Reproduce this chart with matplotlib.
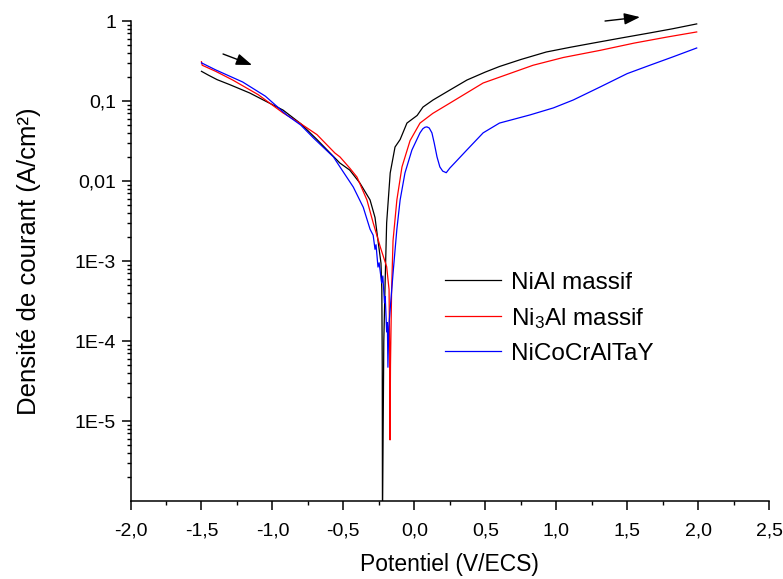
import numpy as np
import matplotlib
matplotlib.use("Agg")
import matplotlib.pyplot as plt
from matplotlib.ticker import FixedLocator, FuncFormatter, MultipleLocator, LogLocator

plt.rcParams['font.family'] = ['Liberation Sans', 'DejaVu Sans']
plt.rcParams['mathtext.fontset'] = 'custom'
plt.rcParams['mathtext.rm'] = 'Liberation Sans'
plt.rcParams['mathtext.it'] = 'Liberation Sans'

# NiAl massif
nial_E = [-1.50, -1.45, -1.39, -1.30, -1.16, -1.05, -0.925, -0.80, -0.686, -0.60,
          -0.525, -0.455, -0.383, -0.312, -0.277, -0.256, -0.235, -0.229, -0.226, -0.2245,
          -0.215, -0.207, -0.195, -0.17, -0.136, -0.10, -0.052, 0.02, 0.061, 0.132,
          0.25, 0.371, 0.50, 0.60, 0.75, 0.93, 1.10, 1.26, 1.45, 1.66, 1.82, 1.99]
nial_i = [0.235, 0.21, 0.185, 0.16, 0.126, 0.10, 0.077, 0.052, 0.033, 0.023,
          0.0168, 0.0137, 0.0094, 0.0058, 0.0035, 0.0018, 9.4e-4, 4.4e-4, 5e-5, 5e-7,
          1e-4, 4.4e-4, 0.003, 0.0126, 0.0266, 0.033, 0.053, 0.066, 0.084, 0.103,
          0.137, 0.183, 0.23, 0.27, 0.33, 0.41, 0.47, 0.53, 0.61, 0.71, 0.80, 0.92]

# Ni3Al massif
ni3al_E = [-1.50, -1.495, -1.40, -1.28, -1.10, -0.925, -0.80, -0.686, -0.56, -0.524,
           -0.455, -0.404, -0.334, -0.29, -0.24, -0.195, -0.178, -0.173, -0.171, -0.168,
           -0.16, -0.15, -0.123, -0.087, -0.03, 0.04, 0.13, 0.25, 0.485, 0.837,
           1.05, 1.31, 1.55, 1.78, 1.99]
ni3al_i = [0.31, 0.28, 0.235, 0.183, 0.12, 0.071, 0.052, 0.038, 0.0224, 0.02,
           0.0145, 0.0112, 0.0058, 0.003, 0.0015, 8.5e-4, 4.4e-4, 5e-5, 5.8e-6, 5e-5,
           4.4e-4, 0.0018, 0.0058, 0.015, 0.032, 0.053, 0.07, 0.094, 0.168, 0.28,
           0.35, 0.43, 0.53, 0.63, 0.73]

# NiCoCrAlTaY
nicocr_E = [-1.50, -1.40, -1.21, -1.05, -0.90, -0.80, -0.71, -0.57, -0.524, -0.43,
            -0.36, -0.312, -0.29, -0.277, -0.27, -0.256, -0.248, -0.23, -0.222, -0.21,
            -0.205, -0.195, -0.19, -0.186, -0.18, -0.15, -0.123, -0.10, -0.066, -0.017,
            0.04, 0.06, 0.075, 0.089, 0.105, 0.124, 0.14, 0.16, 0.18, 0.20,
            0.225, 0.25, 0.30, 0.37, 0.485, 0.60, 0.815, 0.98, 1.12, 1.31,
            1.50, 1.66, 1.82, 1.99]
nicocr_i = [0.30, 0.245, 0.173, 0.115, 0.067, 0.05, 0.0344, 0.02, 0.015, 0.0084,
            0.0047, 0.0025, 0.0021, 0.0014, 0.0016, 8.4e-4, 9.5e-4, 5.3e-4, 6.5e-4, 3e-4,
            3.6e-4, 1.3e-4, 1.7e-4, 4.7e-5, 1.5e-4, 7e-4, 0.0025, 0.0058, 0.0126, 0.0244,
            0.04, 0.045, 0.047, 0.0475, 0.046, 0.04, 0.03, 0.02, 0.015, 0.0133,
            0.0127, 0.0145, 0.018, 0.0244, 0.04, 0.053, 0.067, 0.082, 0.103, 0.15,
            0.22, 0.28, 0.355, 0.46]

series = [(nial_E, nial_i, 'black', 'NiAl massif'),
          (ni3al_E, ni3al_i, 'red', 'Ni$_3$Al massif'),
          (nicocr_E, nicocr_i, 'blue', 'NiCoCrAlTaY')]

# sens de balayage
arrow_left = [(-1.348, 0.387), (-1.144, 0.282)]
arrow_right = [(1.344, 1.0), (1.59, 1.12)]

ytick_vals = [1e-5, 1e-4, 1e-3, 1e-2, 1e-1, 1]
ytick_labels = ['1E-5', '1E-4', '1E-3', '0,01', '0,1', '1']

fig = plt.figure(figsize=(7.83, 5.79), dpi=100)
ax = fig.add_axes([0.1667, 0.1347, 0.8155, 0.829])

for E, i, c, lab in series:
    ax.plot(E, i, color=c, lw=0.9, label=lab)

ax.set_yscale('log')
ax.set_xlim(-2.0, 2.5)
ax.set_ylim(1e-6, 1.0)

ax.xaxis.set_major_locator(MultipleLocator(0.5))
ax.xaxis.set_minor_locator(MultipleLocator(0.25))
ax.xaxis.set_major_formatter(FuncFormatter(lambda v, p: ('%.1f' % v).replace('.', ',')))
ax.yaxis.set_major_locator(FixedLocator(ytick_vals))
ax.yaxis.set_major_formatter(FuncFormatter(
    lambda v, p: dict(zip(ytick_vals, ytick_labels)).get(v, '')))
ax.yaxis.set_minor_locator(LogLocator(base=10, subs=np.arange(2, 10)))
ax.yaxis.set_minor_formatter(FuncFormatter(lambda v, p: ''))

for s in ['top', 'right']:
    ax.spines[s].set_visible(False)
for s in ['left', 'bottom']:
    ax.spines[s].set_linewidth(1.1)

ax.tick_params(which='major', direction='out', length=6.5, width=1.1, labelsize=14)
ax.tick_params(which='minor', direction='out', length=3.2, width=1.0)
ax.tick_params(axis='x', pad=9)
ax.tick_params(axis='y', pad=4)

ax.set_xlabel('Potentiel (V/ECS)', fontsize=16.5, labelpad=10)
ax.set_ylabel('Densité de courant (A/cm²)', fontsize=18.5, labelpad=24)

for a in (arrow_left, arrow_right):
    ax.annotate('', xy=a[1], xytext=a[0], annotation_clip=False,
                arrowprops=dict(arrowstyle='-|>,head_length=0.6,head_width=0.22',
                                color='black', lw=1.0,
                                mutation_scale=16, shrinkA=0, shrinkB=0))

ax.legend(loc='upper left', bbox_to_anchor=(0.4925, 0.478), frameon=False,
          fontsize=17.5, handlelength=2.3, handletextpad=0.4, labelspacing=0.5,
          borderaxespad=0, borderpad=0)

fig.savefig('out.png', dpi=100)
